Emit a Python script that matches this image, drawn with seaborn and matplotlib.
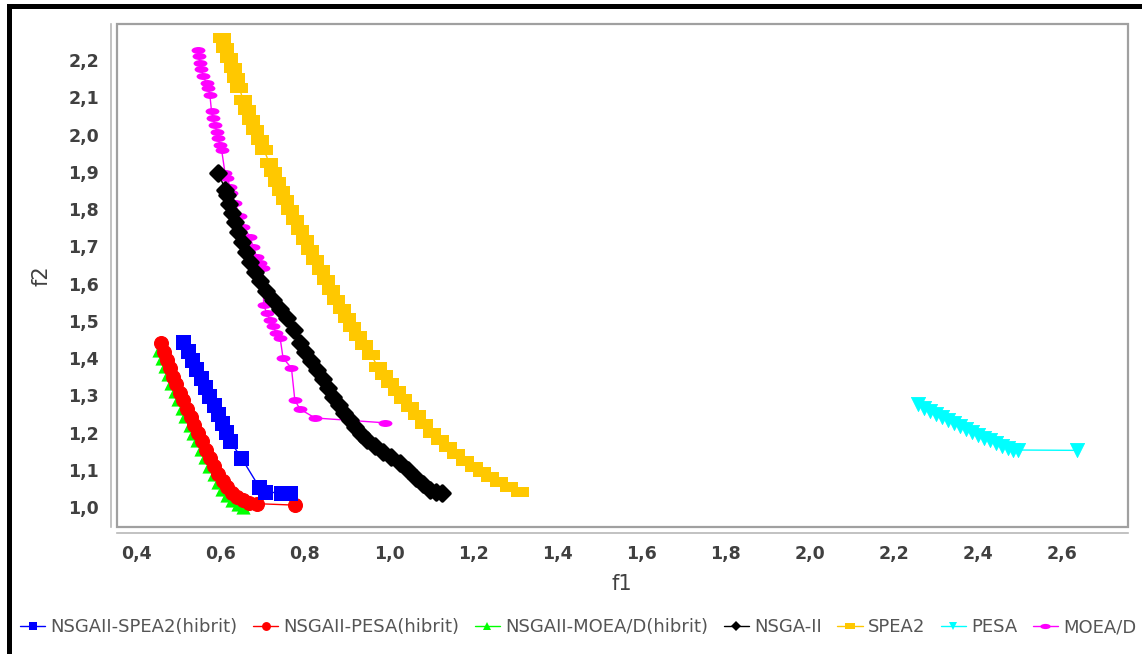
import matplotlib
matplotlib.use("Agg")
import matplotlib.pyplot as plt
from matplotlib.path import Path
from matplotlib.lines import Line2D
from matplotlib.patches import Rectangle
from matplotlib.ticker import FuncFormatter
import numpy as np
import seaborn as sns

# ---- Pareto fronts (f1, f2) per algorithm ----
spea2_hib_f1 = [0.511, 0.521, 0.531, 0.541, 0.552, 0.562, 0.572, 0.583, 0.593, 0.603,
                0.612, 0.622, 0.649, 0.691, 0.705, 0.743, 0.764]
spea2_hib_f2 = [1.443, 1.419, 1.395, 1.370, 1.346, 1.322, 1.298, 1.274, 1.250, 1.226,
                1.201, 1.177, 1.132, 1.054, 1.040, 1.038, 1.038]

pesa_hib_f1 = [0.459, 0.466, 0.472, 0.479, 0.486, 0.493, 0.502, 0.510, 0.520, 0.529,
               0.537, 0.546, 0.555, 0.565, 0.574, 0.584, 0.594, 0.605, 0.615, 0.627,
               0.638, 0.653, 0.667, 0.685, 0.776]
pesa_hib_f2 = [1.440, 1.416, 1.395, 1.373, 1.350, 1.329, 1.307, 1.287, 1.264, 1.242,
               1.220, 1.199, 1.177, 1.154, 1.132, 1.110, 1.089, 1.070, 1.054, 1.038,
               1.027, 1.019, 1.012, 1.009, 1.005]

moead_hib_f1 = [0.453, 0.460, 0.467, 0.474, 0.482, 0.490, 0.498, 0.507, 0.516, 0.526,
                0.534, 0.543, 0.553, 0.562, 0.572, 0.583, 0.593, 0.604, 0.615, 0.627,
                0.641, 0.653]
moead_hib_f2 = [1.421, 1.400, 1.379, 1.356, 1.333, 1.311, 1.289, 1.267, 1.244, 1.221,
                1.200, 1.179, 1.156, 1.133, 1.110, 1.089, 1.067, 1.048, 1.032, 1.019,
                1.007, 1.000]

nsga2_f1 = [0.594, 0.611, 0.615, 0.619, 0.627, 0.634, 0.641, 0.650, 0.660, 0.669,
            0.681, 0.693, 0.707, 0.724, 0.741, 0.757, 0.773, 0.788, 0.800, 0.814,
            0.829, 0.842, 0.855, 0.867, 0.881, 0.894, 0.907, 0.920, 0.933, 0.948,
            0.967, 0.986, 1.005, 1.026, 1.045, 1.065, 1.081, 1.097, 1.112, 1.126]
nsga2_f2 = [1.897, 1.851, 1.838, 1.813, 1.789, 1.765, 1.738, 1.711, 1.685, 1.658,
            1.631, 1.607, 1.580, 1.556, 1.532, 1.507, 1.475, 1.440, 1.416, 1.392,
            1.368, 1.344, 1.319, 1.295, 1.274, 1.252, 1.234, 1.215, 1.196, 1.180,
            1.164, 1.148, 1.133, 1.118, 1.099, 1.078, 1.062, 1.046, 1.040, 1.038]

spea2_f1 = [0.603, 0.611, 0.619, 0.628, 0.636, 0.644, 0.653, 0.662, 0.672, 0.682,
            0.693, 0.703, 0.715, 0.724, 0.734, 0.743, 0.753, 0.764, 0.776, 0.788,
            0.800, 0.812, 0.825, 0.838, 0.850, 0.862, 0.874, 0.887, 0.900, 0.913,
            0.926, 0.940, 0.957, 0.974, 0.988, 1.002, 1.019, 1.033, 1.050, 1.066,
            1.084, 1.102, 1.121, 1.140, 1.159, 1.181, 1.202, 1.221, 1.240, 1.261,
            1.285, 1.311]
spea2_f2 = [2.259, 2.232, 2.205, 2.179, 2.152, 2.125, 2.093, 2.066, 2.039, 2.012,
            1.985, 1.958, 1.924, 1.899, 1.872, 1.848, 1.824, 1.797, 1.770, 1.744,
            1.717, 1.690, 1.663, 1.636, 1.609, 1.583, 1.556, 1.532, 1.507, 1.483,
            1.459, 1.435, 1.408, 1.376, 1.354, 1.333, 1.311, 1.290, 1.268, 1.247,
            1.223, 1.199, 1.180, 1.161, 1.142, 1.123, 1.107, 1.094, 1.081, 1.067,
            1.054, 1.040]

pesa_f1 = [2.258, 2.272, 2.286, 2.300, 2.315, 2.329, 2.343, 2.358, 2.372, 2.386,
           2.400, 2.415, 2.429, 2.443, 2.457, 2.472, 2.483, 2.495, 2.636]
pesa_f2 = [1.277, 1.266, 1.258, 1.250, 1.242, 1.234, 1.226, 1.217, 1.209, 1.201,
           1.193, 1.185, 1.179, 1.172, 1.164, 1.158, 1.154, 1.153, 1.152]

moead_f1 = [0.545, 0.548, 0.550, 0.554, 0.558, 0.566, 0.570, 0.574, 0.578, 0.581,
            0.586, 0.590, 0.593, 0.598, 0.602, 0.610, 0.615, 0.622, 0.625, 0.634,
            0.646, 0.653, 0.669, 0.677, 0.685, 0.693, 0.700, 0.702, 0.709, 0.717,
            0.724, 0.732, 0.741, 0.748, 0.768, 0.776, 0.788, 0.824, 0.990]
moead_f2 = [2.227, 2.211, 2.193, 2.176, 2.156, 2.138, 2.125, 2.106, 2.062, 2.044,
            2.026, 2.008, 1.991, 1.972, 1.958, 1.897, 1.883, 1.860, 1.843, 1.816,
            1.780, 1.753, 1.726, 1.699, 1.672, 1.655, 1.642, 1.542, 1.521, 1.502,
            1.485, 1.467, 1.454, 1.400, 1.373, 1.287, 1.263, 1.239, 1.226]

labels = ["NSGAII-SPEA2(hibrit)", "NSGAII-PESA(hibrit)", "NSGAII-MOEA/D(hibrit)",
          "NSGA-II", "SPEA2", "PESA", "MOEA/D"]
x_ticks = [0.4, 0.6, 0.8, 1.0, 1.2, 1.4, 1.6, 1.8, 2.0, 2.2, 2.4, 2.6]
y_ticks = [1.0, 1.1, 1.2, 1.3, 1.4, 1.5, 1.6, 1.7, 1.8, 1.9, 2.0, 2.1, 2.2]

# ---- marker shapes ----
rect_marker = Path([(-1, -0.6), (1, -0.6), (1, 0.6), (-1, 0.6), (-1, -0.6)], closed=True)
rect_small = Path([(-1, -0.5), (1, -0.5), (1, 0.5), (-1, 0.5), (-1, -0.5)], closed=True)
_circ = Path.unit_circle()
ellipse_marker = Path(_circ.vertices * np.array([1.0, 0.5]), _circ.codes)

series = [
    # (f1, f2, colour, marker, size [pt], outline [pt], legend marker, legend size [pt])
    (spea2_hib_f1, spea2_hib_f2, "#0000FF", "s", 10.8, 0.0, "s", 5.8),
    (pesa_hib_f1, pesa_hib_f2, "#FF0000", "o", 10.0, 0.8, "o", 6.4),
    (moead_hib_f1, moead_hib_f2, "#00FF00", "^", 10.2, 0.0, "^", 6.4),
    (nsga2_f1, nsga2_f2, "#000000", "D", 7.6, 2.6, "D", 5.0),
    (spea2_f1, spea2_f2, "#FFC800", rect_marker, 13.0, 0.0, rect_small, 7.5),
    (pesa_f1, pesa_f2, "#00FFFF", "v", 10.2, 0.6, "v", 6.4),
    (moead_f1, moead_f2, "#FF00FF", ellipse_marker, 10.0, 0.0, ellipse_marker, 7.5),
]

sns.set_theme(style="white")
plt.rcParams["font.family"] = ["DejaVu Sans"]

W, H = 1142, 654
fig = plt.figure(figsize=(W / 100, H / 100), dpi=100)
fig.patch.set_facecolor("white")
ax = fig.add_axes([117 / W, 1 - 527 / H, (1127.5 - 117) / W, (527 - 24) / H])
ax.set_facecolor("white")

# lines first, then shapes; earlier series end up on top
for i, s in reversed(list(enumerate(series))):
    fx, fy, col = s[0], s[1], s[2]
    sns.lineplot(x=fx, y=fy, color=col, linewidth=1.0, estimator=None, sort=True,
                 ax=ax, legend=False, zorder=2)
for i, s in reversed(list(enumerate(series))):
    fx, fy, col, mk, ms, ew = s[:6]
    sns.scatterplot(x=fx, y=fy, color=col, marker=mk, s=ms ** 2, linewidth=ew,
                    edgecolor=col, ax=ax, legend=False, zorder=3 + (7 - i) * 0.1)

ax.set_xlim(0.3532, 2.7557)
ax.set_ylim(0.9463, 2.2967)
ax.set_xticks(x_ticks)
ax.set_yticks(y_ticks)
comma = FuncFormatter(lambda v, p: f"{v:.1f}".replace(".", ","))
ax.xaxis.set_major_formatter(comma)
ax.yaxis.set_major_formatter(comma)

# plot box and detached axis lines
for side in ("top", "right"):
    ax.spines[side].set_visible(False)
for side in ("left", "bottom"):
    ax.spines[side].set_position(("outward", 4.3))
    ax.spines[side].set_color("#b8b8b8")
    ax.spines[side].set_linewidth(1.2)
ax.add_patch(Rectangle((0, 0), 1, 1, transform=ax.transAxes, fill=False,
                       edgecolor="#a0a0a0", linewidth=1.6, clip_on=False, zorder=10))
ax.tick_params(axis="both", which="major", direction="out", length=2.2, width=0.8,
               color="#a0a0a0", labelcolor="#404040", pad=6.5)
for lab in ax.get_xticklabels() + ax.get_yticklabels():
    lab.set_fontweight("bold")
    lab.set_fontsize(12.5)
ax.grid(False)

ax.set_xlabel("f1", fontsize=15, color="#404040", labelpad=8)
ax.set_ylabel("f2", fontsize=15, color="#404040", labelpad=12)

handles = [Line2D([0], [0], color=s[2], lw=1.0, marker=s[6], markersize=s[7],
                  markeredgewidth=0)
           for s in series]
leg = fig.legend(handles, labels, loc="center left", bbox_to_anchor=(20 / W, 27 / H),
                 ncol=7, frameon=False, fontsize=13, handlelength=1.4,
                 handletextpad=0.3, columnspacing=0.84, borderpad=0, borderaxespad=0)
for t in leg.get_texts():
    t.set_color("#555555")

# black frame lines along the top and left edge
fig.patches.append(Rectangle((7 / W, 0), 4.5 / W, (H - 4) / H, transform=fig.transFigure,
                             facecolor="black", edgecolor="none"))
fig.patches.append(Rectangle((7 / W, (H - 8.5) / H), (W - 7) / W, 4.5 / H,
                             transform=fig.transFigure, facecolor="black", edgecolor="none"))

fig.savefig("out.png", dpi=100, facecolor="white")
